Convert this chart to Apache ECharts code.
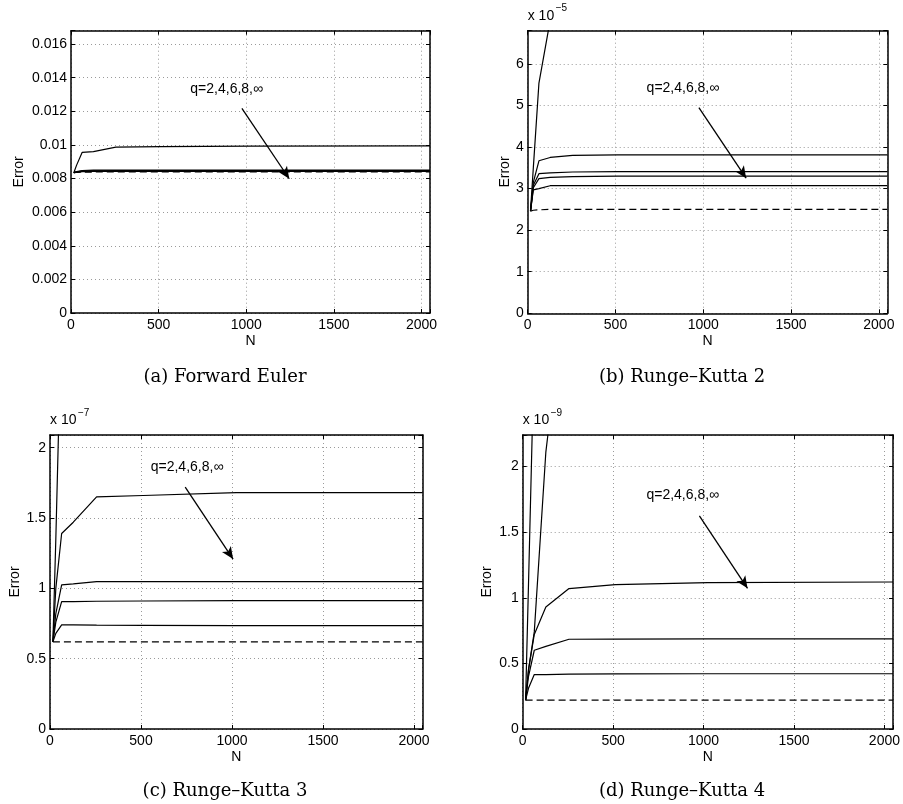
<!DOCTYPE html>
<html>
<head>
<meta charset="utf-8">
<script src="https://cdn.jsdelivr.net/npm/echarts@6/dist/echarts.min.js"></script>
<style>
html,body{margin:0;padding:0;background:#fff;}
#chart{width:903px;height:804px;}
</style>
</head>
<body>
<div id="chart"></div>
<script>
// ---- Data ----
const N = [16, 32, 64, 128, 256, 512, 1024, 2048];
const xTicks = [0, 500, 1000, 1500, 2000];

// (a) Forward Euler (absolute values)
const eulerQ2   = [0.00835, 0.0088, 0.00956, 0.0096, 0.00987, 0.0099, 0.00993, 0.00994];
const eulerQ4   = [0.00835, 0.00842, 0.00848, 0.0085, 0.00851, 0.00851, 0.00851, 0.00851];
const eulerQ6   = [0.00835, 0.0084, 0.00845, 0.00846, 0.00847, 0.00847, 0.00847, 0.00847];
const eulerQ8   = [0.00835, 0.00839, 0.00843, 0.00844, 0.00844, 0.00844, 0.00844, 0.00844];
const eulerQinf = [0.00835, 0.00838, 0.00841, 0.00842, 0.00842, 0.00842, 0.00842, 0.00842];
const eulerRef  = [0.00835, 0.00836, 0.00838, 0.00839, 0.00839, 0.00839, 0.00839, 0.00839];

// (b) Runge–Kutta 2 (units of 1e-5)
const rk2Q2   = [2.46, 3.5, 5.54, 7.05, 8.0, 8.5, 8.7, 8.8];
const rk2Q4   = [2.46, 3.15, 3.67, 3.75, 3.80, 3.81, 3.81, 3.81];
const rk2Q6   = [2.46, 3.08, 3.36, 3.38, 3.40, 3.41, 3.41, 3.41];
const rk2Q8   = [2.46, 3.02, 3.24, 3.27, 3.29, 3.30, 3.30, 3.30];
const rk2Qinf = [2.46, 2.97, 3.00, 3.07, 3.07, 3.07, 3.07, 3.07];
const rk2Ref  = [2.46, 2.48, 2.49, 2.50, 2.50, 2.50, 2.50, 2.50];

// (c) Runge–Kutta 3 (units of 1e-7)
const rk3Q2   = [0.62, 1.35, 3.0, 4.5, 5.5, 6.0, 6.2, 6.3];
const rk3Q4   = [0.62, 1.0, 1.39, 1.47, 1.65, 1.66, 1.68, 1.68];
const rk3Q6   = [0.62, 0.82, 1.025, 1.032, 1.048, 1.048, 1.048, 1.048];
const rk3Q8   = [0.62, 0.76, 0.906, 0.906, 0.908, 0.91, 0.912, 0.913];
const rk3Qinf = [0.62, 0.68, 0.74, 0.74, 0.738, 0.736, 0.735, 0.735];
const rk3Ref  = [0.62, 0.62, 0.62, 0.62, 0.62, 0.62, 0.62, 0.62];

// (d) Runge–Kutta 4 (units of 1e-9)
const rk4Q2   = [0.22, 1.1, 2.9, 4.0, 5.0, 5.5, 5.8, 6.0];
const rk4Q4   = [0.22, 0.45, 0.74, 2.11, 3.6, 4.2, 4.5, 4.6];
const rk4Q6   = [0.22, 0.45, 0.72, 0.93, 1.07, 1.10, 1.115, 1.12];
const rk4Q8   = [0.22, 0.40, 0.60, 0.63, 0.684, 0.685, 0.686, 0.686];
const rk4Qinf = [0.22, 0.31, 0.415, 0.415, 0.418, 0.42, 0.421, 0.421];
const rk4Ref  = [0.22, 0.22, 0.22, 0.22, 0.22, 0.22, 0.22, 0.22];

const captions = ['(a) Forward Euler', '(b) Runge–Kutta 2', '(c) Runge–Kutta 3', '(d) Runge–Kutta 4'];
const exponents = [null, '−5', '−7', '−9'];
const annotText = 'q=2,4,6,8,∞';
// annotation anchor points in data coordinates [x, y]
const annotPos  = [[888, 0.01334], [884, 5.42], [753, 1.862], [885, 1.784]];
const arrowFrom = [[975, 0.01218], [975, 4.95], [743, 1.72], [977, 1.623]];
const arrowTo   = [[1245, 0.00799], [1244, 3.25], [1006, 1.208], [1243, 1.072]];
const yMax = [0.0168, 6.8, 2.09, 2.24];
const yInterval = [0.002, 1, 0.5, 0.5];
const xMax = 2048;
const xInterval = 500;

const panels = [
  {solid: [eulerQ2, eulerQ4, eulerQ6, eulerQ8, eulerQinf], dashed: eulerRef},
  {solid: [rk2Q2, rk2Q4, rk2Q6, rk2Q8, rk2Qinf], dashed: rk2Ref},
  {solid: [rk3Q2, rk3Q4, rk3Q6, rk3Q8, rk3Qinf], dashed: rk3Ref},
  {solid: [rk4Q2, rk4Q4, rk4Q6, rk4Q8, rk4Qinf], dashed: rk4Ref}
];

// ---- Layout ----
const grids = [
  {left: 71,    top: 30.7, width: 359,   height: 282.3},
  {left: 527.7, top: 30.7, width: 359.6, height: 282.6},
  {left: 50,    top: 435,  width: 372.7, height: 294},
  {left: 522.7, top: 435,  width: 371.6, height: 294}
];
const yNameGap = [45, 16, 28, 29];
const xNameGap = [21, 21, 21, 21];
const captionPos = [[225, 377], [682, 377], [225, 791], [682, 791]];

const SANS = '"Liberation Sans", Arial, Helvetica, sans-serif';
const SERIF = '"DejaVu Serif", "Liberation Serif", serif';

function isMult(v, step) {
  const r = v / step;
  return Math.abs(r - Math.round(r)) < 1e-6;
}

const xAxes = [], yAxes = [], series = [], graphics = [];
const axisLineStyle = {show: true, onZero: false, lineStyle: {color: '#000', width: 1.5}};
const tickStyle = {show: true, inside: true, length: 4, lineStyle: {color: '#000', width: 1}};
const gridLineStyle = {show: true, lineStyle: {color: '#9a9a9a', type: [1, 3], width: 1}};

grids.forEach((g, i) => {
  xAxes.push({
    type: 'value', gridIndex: i, position: 'bottom', min: 0, max: xMax, interval: xInterval,
    axisLine: axisLineStyle, axisTick: tickStyle,
    axisLabel: {color: '#000', fontFamily: SANS, fontSize: 14, margin: 5,
      formatter: v => (isMult(v, xInterval) && xTicks.indexOf(v) >= 0 ? String(v) : '')},
    splitLine: gridLineStyle,
    name: 'N', nameLocation: 'middle', nameGap: xNameGap[i],
    nameTextStyle: {color: '#000', fontFamily: SANS, fontSize: 14}
  });
  yAxes.push({
    type: 'value', gridIndex: i, position: 'left', min: 0, max: yMax[i], interval: yInterval[i],
    axisLine: axisLineStyle, axisTick: tickStyle,
    axisLabel: {color: '#000', fontFamily: SANS, fontSize: 14, margin: 4,
      formatter: v => (isMult(v, yInterval[i]) ? String(+v.toFixed(6)) : '')},
    splitLine: gridLineStyle,
    name: 'Error', nameLocation: 'middle', nameGap: yNameGap[i], nameRotate: 90,
    nameTextStyle: {color: '#000', fontFamily: SANS, fontSize: 14}
  });
});
// mirror axes (top / right) for the box and its ticks
grids.forEach((g, i) => {
  xAxes.push({type: 'value', gridIndex: i, position: 'top', min: 0, max: xMax, interval: xInterval,
    axisLine: axisLineStyle, axisTick: tickStyle, axisLabel: {show: false}, splitLine: {show: false}});
  yAxes.push({type: 'value', gridIndex: i, position: 'right', min: 0, max: yMax[i], interval: yInterval[i],
    axisLine: axisLineStyle, axisTick: tickStyle, axisLabel: {show: false}, splitLine: {show: false}});
});

panels.forEach((p, i) => {
  p.solid.forEach(arr => {
    series.push({
      type: 'line', xAxisIndex: i, yAxisIndex: i, symbol: 'none', clip: true,
      data: N.map((n, k) => [n, arr[k]]),
      lineStyle: {color: '#000', width: 1.2}, silent: true
    });
  });
  series.push({
    type: 'line', xAxisIndex: i, yAxisIndex: i, symbol: 'none', clip: true,
    data: N.map((n, k) => [n, p.dashed[k]]),
    lineStyle: {color: '#000', width: 1.2, type: [7, 4]}, silent: true,
    markLine: {
      silent: true, animation: false, symbol: ['none', 'arrow'], symbolSize: [8, 12],
      lineStyle: {color: '#000', width: 1.3, type: 'solid'}, label: {show: false},
      data: [[{coord: arrowFrom[i]}, {coord: arrowTo[i]}]]
    },
    markPoint: {
      silent: true, animation: false,
      data: [{coord: annotPos[i], symbol: 'circle', symbolSize: 0,
        label: {show: true, position: 'inside', formatter: annotText, color: '#000',
          fontFamily: SANS, fontSize: 14}}]
    }
  });
});

grids.forEach((g, i) => {
  if (exponents[i]) {
    graphics.push({type: 'text', left: g.left, top: g.top - 22,
      style: {text: 'x 10', fill: '#000', font: '14px ' + SANS}});
    graphics.push({type: 'text', left: g.left + 28, top: g.top - 27,
      style: {text: exponents[i], fill: '#000', font: '10px ' + SANS}});
  }
  graphics.push({type: 'text', x: captionPos[i][0], y: captionPos[i][1],
    style: {text: captions[i], fill: '#000', font: '18px ' + SERIF, textAlign: 'center', textVerticalAlign: 'middle'}});
});

const chart = echarts.init(document.getElementById('chart'), null, {renderer: 'canvas'});
chart.setOption({
  animation: false,
  backgroundColor: '#fff',
  grid: grids.map(g => Object.assign({containLabel: false}, g)),
  xAxis: xAxes,
  yAxis: yAxes,
  series: series,
  graphic: graphics
});
</script>
</body>
</html>
